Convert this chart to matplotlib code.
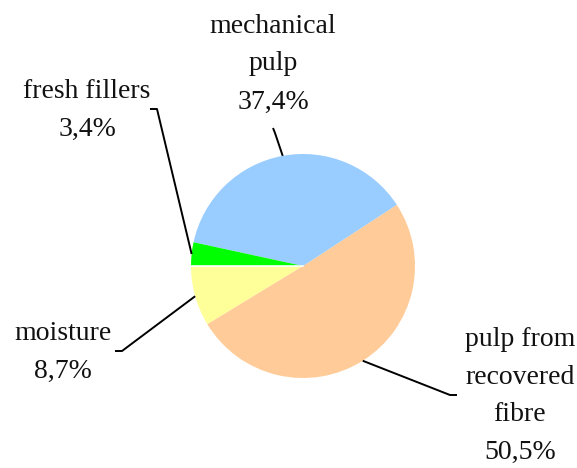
import numpy as np
import matplotlib
matplotlib.use("Agg")
import matplotlib.pyplot as plt

# slice data, in drawing order (counter-clockwise from 9 o'clock)
names = ["moisture", "pulp from\nrecovered\nfibre", "mechanical\npulp", "fresh fillers"]
shares = [8.7, 50.5, 37.4, 3.4]
colors = ["#FFFF99", "#FFCC99", "#99CCFF", "#00FF00"]

W, H = 577, 468
fig = plt.figure(figsize=(W / 100, H / 100), dpi=100)
ax = fig.add_axes([0, 0, 1, 1])

cx, cy, r = 303, H - 266, 112
wedges, _ = ax.pie(shares, colors=colors, startangle=180, counterclock=True,
                   center=(cx, cy), radius=r, frame=True,
                   wedgeprops=dict(linewidth=0))
ax.set_xlim(0, W)
ax.set_ylim(0, H)
ax.set_aspect("equal")
ax.axis("off")

# thin white seam along the start edge
a0 = np.deg2rad(wedges[0].theta1)
ax.plot([cx, cx + r * np.cos(a0)], [cy, cy + r * np.sin(a0)], color="white", lw=1.2)

# label layout: text centre, elbow of leader, end of short tick (pixel coords, y down)
label_pos = [(63, 352), (520, 396), (273, 64), (87, 110)]
elbow = [(122, 351), (450, 395), (275, 133), (157, 109)]
tick_end = [(115, 351), (457, 395), (273, 128), (150, 109)]

for w, name, val, (lx, ly), (ex, ey), (tx, ty) in zip(
        wedges, names, shares, label_pos, elbow, tick_end):
    mid = np.deg2rad((w.theta1 + w.theta2) / 2)
    px, py = cx + r * np.cos(mid), cy + r * np.sin(mid)
    ax.plot([px, ex, tx], [py, H - ey, H - ty], color="black", lw=1.4,
            solid_capstyle="butt")
    txt = name + "\n" + f"{val:.1f}".replace(".", ",") + "%"
    ax.text(lx, H - ly, txt, ha="center", va="center", fontsize=20,
            family="Liberation Serif", color="#111111", linespacing=1.68)

fig.savefig("out.png", dpi=100)
